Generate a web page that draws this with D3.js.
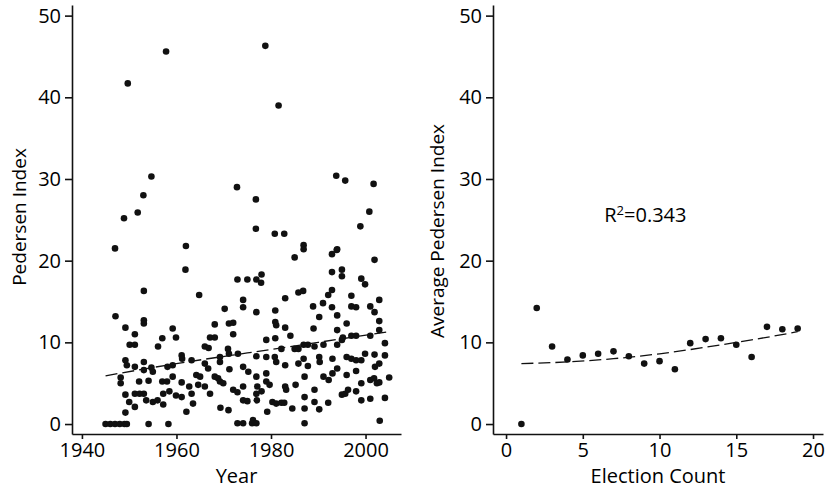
<!DOCTYPE html>
<html>
<head>
<meta charset="utf-8">
<script src="https://cdn.jsdelivr.net/npm/d3@7"></script>
<style>
  body { margin: 0; background: #fff; }
  svg text { font-family: "Open Sans", "DejaVu Sans", sans-serif; fill: #000; }
  .axis path, .axis line { stroke: #111; stroke-width: 1.6; }
  .axis text { font-size: 20px; }
</style>
</head>
<body>
<div id="chart"></div>
<script>
// left panel: Pedersen index by election year (rows of the two arrays line up)
var years = [
  1947.0, 1948.9, 1949.7, 1951.8, 1953.0, 1954.7, 1957.8, 1962.0, 1972.8, 1976.8,
  1976.8, 1978.8, 1981.6, 1980.8, 1982.8, 1986.9, 1993.8, 1995.7, 2001.7, 2000.8,
  1998.9, 1994.0,
  1945, 1946, 1947, 1948, 1949, 1949.5,
  1947.1, 1949.2, 1948.2, 1948.2, 1949.2, 1949.5, 1949.2, 1949.2, 1950.0, 1950.1,
  1951.2, 1951.2, 1951.2, 1951.2, 1951.2, 1952.1, 1953.1, 1953.1, 1953.1, 1953.1,
  1953.1, 1953.1, 1953.6, 1952.2, 1954.1, 1954.1, 1954.7, 1955.0, 1955.0, 1956.0,
  1957.2, 1956.1, 1957.0, 1957.0, 1958.0, 1958.3, 1957.2, 1959.2, 1959.2, 1958.1,
  1959.9, 1959.2, 1958.5, 1959.9, 1961.1, 1961.1, 1961.2, 1961.9, 1962.1, 1961.1,
  1963.2, 1962.7, 1963.2, 1963.5, 1964.8, 1964.2, 1965.0, 1964.6, 1966.0, 1966.8,
  1966.0, 1966.7, 1967.1, 1966.0, 1967.1, 1968.1, 1968.1, 1968.1, 1968.8, 1969.2,
  1969.2, 1969.2, 1969.9, 1969.3, 1970.2, 1970.9, 1971.1, 1971.1, 1972.0, 1972.0,
  1971.0, 1971.2, 1972.0, 1972.9, 1972.9, 1973.0, 1972.9, 1974.1, 1974.1, 1974.1,
  1974.1, 1974.1, 1975.0, 1975.2, 1974.1, 1975.0, 1976.0, 1976.2, 1976.9, 1976.9,
  1977.0, 1976.9, 1976.9, 1976.9, 1977.1, 1976.9, 1978.0, 1977.9, 1978.0, 1979.0,
  1979.0, 1979.0, 1979.0, 1979.7, 1979.2, 1980.9, 1980.9, 1981.1, 1980.9, 1980.8,
  1981.1, 1980.3, 1981.1, 1982.2, 1982.8, 1982.2, 1983.0, 1983.0, 1983.0, 1983.0,
  1983.2, 1984.1, 1984.5, 1985.0, 1985.0, 1985.8, 1985.2, 1985.8, 1986.8, 1985.8,
  1986.9, 1986.9, 1987.8, 1986.9, 1987.1, 1987.1, 1987.1, 1987.1, 1987.8, 1988.9,
  1989.0, 1989.2, 1989.2, 1989.2, 1990.2, 1990.2, 1990.3, 1990.2, 1991.0, 1991.1,
  1991.1, 1992.1, 1992.1, 1992.2, 1992.9, 1992.9, 1992.9, 1993.9, 1992.9, 1993.0,
  1993.0, 1994.0, 1994.0, 1994.0, 1994.0, 1995.0, 1995.0, 1995.0, 1995.2, 1995.0,
  1995.7, 1996.0, 1996.0, 1996.0, 1996.3, 1997.0, 1997.0, 1998.0, 1997.0, 1998.0,
  1997.0, 1998.0, 1998.0, 1998.0, 1999.1, 1999.9, 1999.1, 1999.1, 1999.1, 1999.9,
  2001.0, 2001.0, 2001.0, 2001.8, 2001.0, 2001.9, 2001.9, 2001.9, 2002.0, 2002.9,
  2002.9, 2002.9, 2002.9, 2002.9, 2002.4, 2003.0, 2004.1, 2004.1, 2004.1, 2005.0
];
var pedersen = [
  21.5, 25.2, 41.7, 25.9, 28.0, 30.3, 45.6, 21.8, 29.0, 27.5,
  23.9, 46.3, 39.0, 23.3, 23.3, 21.9, 30.4, 29.8, 29.4, 26.0,
  24.2, 21.4,
  0, 0, 0, 0, 0, 0,
  13.2, 11.8, 5.7, 5.0, 7.8, 7.2, 3.6, 1.4, 2.7, 9.7,
  9.7, 11.0, 7.0, 3.7, 2.1, 5.2, 16.3, 12.7, 12.3, 7.6,
  6.6, 3.7, 2.9, 3.7, 0, 5.3, 6.9, 6.4, 2.7, 2.9,
  2.4, 9.5, 10.5, 5.2, 5.2, 0, 3.7, 11.7, 7.2, 7.0,
  10.6, 5.8, 4.0, 3.5, 5.1, 8.4, 8.0, 18.9, 1.5, 3.3,
  7.8, 4.6, 3.7, 2.5, 15.8, 6.0, 5.8, 4.8, 9.5, 9.3,
  7.4, 6.8, 3.7, 4.6, 10.6, 10.6, 12.2, 5.8, 5.6, 8.2,
  7.6, 5.2, 5.0, 2.0, 14.1, 9.2, 8.6, 12.3, 12.4, 11.0,
  1.7, 6.7, 4.2, 3.9, 17.7, 8.6, 0.1, 0.1, 15.2, 14.3,
  7.0, 4.6, 17.7, 6.4, 2.9, 2.8, 0.1, 0.5, 0.1, 3.7,
  2.9, 13.7, 8.3, 5.8, 4.6, 17.7, 18.3, 17.3, 4.0, 10.3,
  8.2, 6.2, 5.2, 4.8, 1.5, 13.9, 12.5, 12.1, 10.5, 8.2,
  7.6, 2.7, 2.5, 2.6, 2.6, 9.2, 11.8, 15.4, 7.2, 4.6,
  4.2, 10.8, 1.9, 20.4, 9.2, 9.2, 4.8, 16.1, 16.3, 7.4,
  21.4, 9.7, 9.7, 8.0, 5.8, 3.3, 1.9, 0.1, 7.1, 14.4,
  11.7, 9.5, 4.2, 2.7, 13.1, 8.2, 7.6, 1.8, 14.8, 9.7,
  5.8, 2.6, 15.8, 5.4, 16.4, 18.6, 20.8, 21.3, 14.3, 8.0,
  6.2, 13.3, 11.5, 9.7, 6.8, 18.9, 18.1, 10.3, 10.6, 3.6,
  3.7, 12.3, 8.2, 6.0, 4.2, 15.7, 14.4, 14.3, 10.8, 10.8,
  8.0, 7.8, 6.5, 4.0, 17.8, 17.1, 7.8, 5.0, 2.9, 8.6,
  14.4, 10.8, 5.4, 5.6, 3.1, 20.1, 13.7, 8.5, 7.0, 15.2,
  12.6, 11.5, 7.4, 5.1, 5.0, 0.4, 9.9, 8.4, 3.2, 5.7
];
var yearTrendX = [1945, 1960, 1975, 1990, 2005];
var yearTrendY = [5.9, 7.4, 8.7, 10.0, 11.3];

// right panel: average Pedersen index by election count
var electionCount = [1,2,3,4,5,6,7,8,9,10,11,12,13,14,15,16,17,18,19];
var avgPedersen = [0.0, 14.2, 9.5, 7.9, 8.4, 8.6, 8.9, 8.3, 7.4, 7.7, 6.7, 9.9, 10.4, 10.5, 9.7, 8.2, 11.9, 11.6, 11.7];
var countTrendX = [1, 4, 7, 10, 13, 16, 19];
var countTrendY = [7.4, 7.6, 8.0, 8.6, 9.4, 10.3, 11.3];

var yTicks = [0, 10, 20, 30, 40, 50];
var yearTicks = [1940, 1960, 1980, 2000];
var countTicks = [0, 5, 10, 15, 20];

var fullWidth = 829, fullHeight = 488;

var svg = d3.select("#chart").append("svg")
  .attr("width", fullWidth)
  .attr("height", fullHeight);

var yScale = d3.scaleLinear().domain([-1.22, 51.3]).range([434, 5]);
var xYear = d3.scaleLinear().domain([1937.9, 2007.5]).range([72, 401]);
var xCount = d3.scaleLinear().domain([-0.85, 20.65]).range([493, 823]);

function drawPanel(xScale, xTicks, xs, ys, tx, ty, x0, xLabel, yLabel, yLabelX, yLabelY) {
  var g = svg.append("g");

  g.append("g").attr("class", "axis")
    .attr("transform", "translate(" + x0 + ",0)")
    .call(d3.axisLeft(yScale).tickValues(yTicks).tickSize(7).tickSizeOuter(0).tickPadding(4));

  g.append("g").attr("class", "axis")
    .attr("transform", "translate(0,434)")
    .call(d3.axisBottom(xScale).tickValues(xTicks).tickSize(5).tickSizeOuter(0).tickPadding(4)
      .tickFormat(d3.format("d")));

  var line = d3.line()
    .x(function(d, i) { return xScale(tx[i]); })
    .y(function(d) { return yScale(d); })
    .curve(d3.curveNatural);

  g.append("path")
    .datum(ty)
    .attr("d", line)
    .attr("fill", "none")
    .attr("stroke", "#111")
    .attr("stroke-width", 1.3)
    .attr("stroke-dasharray", "12,5");

  g.selectAll("circle")
    .data(ys)
    .enter().append("circle")
    .attr("cx", function(d, i) { return xScale(xs[i]); })
    .attr("cy", function(d) { return yScale(d); })
    .attr("r", 3.3)
    .attr("fill", "#111");

  g.append("text")
    .attr("x", (xScale.range()[0] + xScale.range()[1]) / 2)
    .attr("y", 483)
    .attr("text-anchor", "middle")
    .style("font-size", "20px")
    .text(xLabel);

  g.append("text")
    .attr("transform", "translate(" + yLabelX + "," + yLabelY + ") rotate(-90)")
    .attr("text-anchor", "middle")
    .style("font-size", "19px")
    .text(yLabel);
}

drawPanel(xYear, yearTicks, years, pedersen, yearTrendX, yearTrendY, 72, "Year", "Pedersen Index", 26, 217);
drawPanel(xCount, countTicks, electionCount, avgPedersen, countTrendX, countTrendY, 493, "Election Count", "Average Pedersen Index", 444, 231);

// R squared note
var note = svg.append("text")
  .attr("x", xCount(6.4))
  .attr("y", 222)
  .style("font-size", "20px");
note.append("tspan").text("R");
note.append("tspan").attr("dy", -7).style("font-size", "13px").text("2");
note.append("tspan").attr("dy", 7).text("=0.343");
</script>
</body>
</html>
